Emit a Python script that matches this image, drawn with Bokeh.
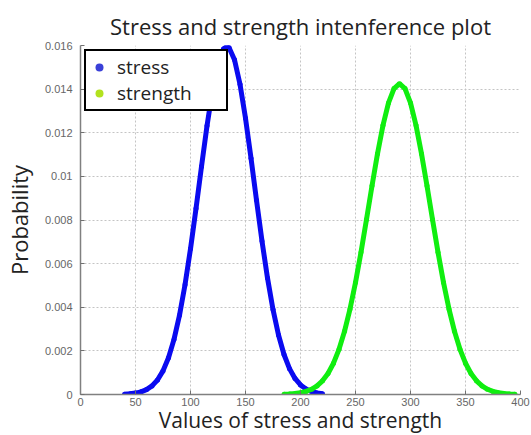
from bokeh.plotting import figure
from bokeh.models import ColumnDataSource, Legend, LegendItem, FixedTicker, Range1d
from bokeh.embed import file_html
from bokeh.resources import INLINE

# Stress distribution (value, probability density)
stress_x = [40, 45, 50, 55, 60, 65, 70, 75, 80, 85, 90, 95, 100, 105, 110, 115,
            120, 125, 130, 133, 135, 140, 145, 150, 155, 160, 165, 170, 175, 180,
            185, 190, 195, 200, 205, 210, 215, 220]
stress_p = [0.0000158, 0.0000325, 0.0000645, 0.000123, 0.000225, 0.000395,
            0.000667, 0.001082, 0.001687, 0.002527, 0.003636, 0.005028, 0.006680,
            0.008524, 0.010452, 0.012316, 0.013941, 0.015164, 0.015845, 0.015960,
            0.015909, 0.015347, 0.014224, 0.012666, 0.010835, 0.008907, 0.007035,
            0.005339, 0.003893, 0.002726, 0.001835, 0.001186, 0.000737, 0.000440,
            0.000252, 0.000139, 0.0000736, 0.0000374]

# Strength distribution (value, probability density)
strength_x = [185, 190, 195, 200, 205, 210, 215, 220, 225, 230, 235, 240, 245,
              250, 255, 260, 265, 270, 275, 280, 285, 290, 295, 300, 305, 310,
              315, 320, 325, 330, 335, 340, 345, 350, 355, 360, 365, 370, 375,
              380, 385, 390, 395]
strength_p = [0.0000126, 0.0000242, 0.0000451, 0.0000814, 0.000142, 0.000240,
              0.000394, 0.000626, 0.000963, 0.001435, 0.002070, 0.002894,
              0.003917, 0.005136, 0.006523, 0.008026, 0.009565, 0.011039,
              0.012343, 0.013367, 0.014023, 0.014248, 0.014023, 0.013367,
              0.012343, 0.011039, 0.009565, 0.008026, 0.006523, 0.005136,
              0.003917, 0.002894, 0.002070, 0.001435, 0.000963, 0.000626,
              0.000394, 0.000240, 0.000142, 0.0000814, 0.0000451, 0.0000242,
              0.0000126]

x_ticks = [0, 50, 100, 150, 200, 250, 300, 350, 400]
y_ticks = [0, 0.002, 0.004, 0.006, 0.008, 0.01, 0.012, 0.014, 0.016]
y_tick_labels = ["0", "0.002", "0.004", "0.006", "0.008", "0.01", "0.012",
                 "0.014", "0.016"]

STRESS_COLOR = "#0a0af0"
STRENGTH_COLOR = "#10ee10"

p = figure(frame_width=440, frame_height=349,
           min_border_left=79, min_border_right=12, min_border_top=45,
           min_border_bottom=38,
           x_range=Range1d(0, 400), y_range=Range1d(0, 0.016),
           output_backend="svg", toolbar_location=None,
           title="Stress and strength intenference plot")

p.title.align = "center"
p.title.text_font = "Open Sans"
p.title.text_font_size = "22px"
p.title.text_font_style = "normal"
p.title.text_color = "#222222"

p.outline_line_color = None
p.background_fill_color = "white"

stress_src = ColumnDataSource(dict(x=stress_x, y=stress_p))
strength_src = ColumnDataSource(dict(x=strength_x, y=strength_p))

p.line("x", "y", source=stress_src, line_color=STRESS_COLOR, line_width=5)
p.scatter("x", "y", source=stress_src, size=5, fill_color=STRESS_COLOR,
          line_color=None)
p.line("x", "y", source=strength_src, line_color=STRENGTH_COLOR, line_width=5)
p.scatter("x", "y", source=strength_src, size=5, fill_color=STRENGTH_COLOR,
          line_color=None)

# Legend swatches (hidden renderers, drawn only in the legend)
leg_stress = p.scatter("x", "y", source=stress_src, size=9,
                       fill_color="#3a40d8", line_color=None, visible=False)
leg_strength = p.scatter("x", "y", source=strength_src, size=9,
                         fill_color="#b2e21e", line_color=None, visible=False)

legend = Legend(items=[LegendItem(label="stress", renderers=[leg_stress]),
                       LegendItem(label="strength", renderers=[leg_strength])],
                location="top_left", margin=4, padding=3, spacing=0,
                glyph_width=20, glyph_height=20, label_height=20,
                label_width=106, label_standoff=8,
                label_text_font="Open Sans", label_text_font_size="19px",
                label_text_color="#222222",
                border_line_color="black", border_line_width=2,
                border_line_alpha=1.0,
                background_fill_color="white", background_fill_alpha=1.0)
p.add_layout(legend)

# Axes
p.xaxis.ticker = FixedTicker(ticks=x_ticks)
p.yaxis.ticker = FixedTicker(ticks=y_ticks)
p.yaxis.major_label_overrides = {t: s for t, s in zip(y_ticks, y_tick_labels)}

for ax in (p.xaxis, p.yaxis):
    ax.axis_line_color = "#808080"
    ax.axis_line_width = 1.5
    ax.major_tick_line_color = "#707070"
    ax.major_tick_in = 4
    ax.major_tick_out = 0
    ax.minor_tick_line_color = None
    ax.major_label_text_font = "Liberation Sans"
    ax.major_label_text_font_size = "11px"
    ax.major_label_text_color = "#666666"
    ax.axis_label_text_font = "Open Sans"
    ax.axis_label_text_font_style = "normal"
    ax.axis_label_text_color = "#222222"

p.xaxis.axis_label = "Values of stress and strength"
p.xaxis.axis_label_text_font_size = "21px"
p.xaxis.major_label_standoff = 3
p.xaxis.axis_label_standoff = -3

p.yaxis.axis_label = "Probability"
p.yaxis.axis_label_text_font_size = "22px"
p.yaxis.major_label_standoff = 8
p.yaxis.axis_label_standoff = 8

p.grid.grid_line_color = "#c4c4c4"
p.grid.grid_line_dash = "2 2"
p.grid.grid_line_width = 1

open("out.html", "w").write(file_html(p, INLINE))
